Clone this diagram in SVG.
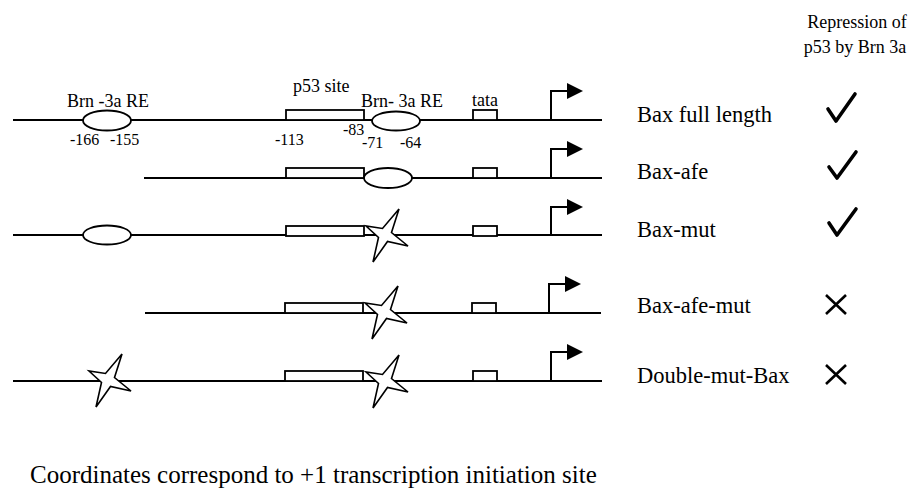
<svg xmlns="http://www.w3.org/2000/svg" width="911" height="496" viewBox="0 0 911 496">
<style>
text{font-family:"Liberation Serif","Times New Roman",serif;fill:#000}
.lbl{font-size:18px}
.num{font-size:16px}
.name{font-size:22.5px}
.line{stroke:#000;stroke-width:2;fill:none}
.box{stroke:#000;stroke-width:1.8;fill:#fff}
.ell{stroke:#000;stroke-width:1.8;fill:#fff}
.star{stroke:#000;stroke-width:1.6;fill:#fff;stroke-linejoin:miter}
.tss{stroke:#000;stroke-width:2;fill:none}
.mark{stroke:#000;stroke-width:3.6;fill:none;stroke-linecap:round;stroke-linejoin:round}
.cross{stroke:#000;stroke-width:2.6;fill:none}
</style>
<defs>
<path id="star" d="M14,-26 L6.5,-2.5 L23,11 L2.5,6.5 L-12,27 L-6.5,2.5 L-19,-9 L-2.5,-6.5 Z"/>
<g id="arrow">
<path class="tss" d="M0,0 V-29 H17"/>
<path d="M16,-37 L32,-29 L16,-21 Z" fill="#000"/>
</g>
<g id="tata"><rect class="box" x="473" y="-10" width="24" height="10"/></g>
<g id="p53"><rect class="box" x="286" y="-10" width="78" height="10"/></g>
</defs>

<g id="header">
<text class="lbl" x="857" y="28" text-anchor="middle">Repression of</text>
<text class="lbl" x="855" y="53" text-anchor="middle">p53 by Brn 3a</text>
</g>

<g id="row1">
<line class="line" x1="13" y1="120" x2="602" y2="120"/>
<ellipse class="ell" cx="107" cy="120.5" rx="24" ry="10"/>
<use href="#p53" transform="translate(0,120)"/>
<ellipse class="ell" cx="396" cy="121" rx="24" ry="9.5"/>
<use href="#tata" transform="translate(0,120)"/>
<use href="#arrow" transform="translate(551,120)"/>
<text class="lbl" x="67" y="107">Brn -3a RE</text>
<text class="lbl" x="293" y="92">p53 site</text>
<text class="lbl" x="361" y="107">Brn- 3a RE</text>
<text class="lbl" x="472" y="106">tata</text>
<text class="num" x="70" y="145">-166</text>
<text class="num" x="110" y="145">-155</text>
<text class="num" x="275" y="145">-113</text>
<text class="num" x="343" y="135">-83</text>
<text class="num" x="362" y="148">-71</text>
<text class="num" x="400" y="148">-64</text>
<text class="name" x="637" y="122">Bax full length</text>
<path class="mark" d="M828,109 L836,121 L855,94"/>
</g>

<g id="row2">
<line class="line" x1="144" y1="178" x2="602" y2="178"/>
<use href="#p53" transform="translate(0,178)"/>
<ellipse class="ell" cx="388" cy="178" rx="24" ry="10"/>
<use href="#tata" transform="translate(0,178)"/>
<use href="#arrow" transform="translate(551,178)"/>
<text class="name" x="637" y="179">Bax-afe</text>
<path class="mark" d="M829,167 L837,178 L856,152"/>
</g>

<g id="row3">
<line class="line" x1="13" y1="235" x2="602" y2="235"/>
<ellipse class="ell" cx="107" cy="235" rx="24" ry="9.5"/>
<use href="#p53" transform="translate(0,236)"/>
<use href="#tata" transform="translate(0,236)"/>
<use href="#star" class="star" transform="translate(385,235)"/>
<use href="#arrow" transform="translate(551,236)"/>
<text class="name" x="637" y="237">Bax-mut</text>
<path class="mark" d="M829,223 L837,235 L856,209"/>
</g>

<g id="row4">
<line class="line" x1="145" y1="313" x2="601" y2="313"/>
<use href="#p53" transform="translate(-1,313)"/>
<use href="#tata" transform="translate(-1,313)"/>
<use href="#star" class="star" transform="translate(384,312)"/>
<use href="#arrow" transform="translate(549,313)"/>
<text class="name" x="637" y="313">Bax-afe-mut</text>
<path class="cross" d="M826,295 L846,314 M846,295 L826,314"/>
</g>

<g id="row5">
<line class="line" x1="13" y1="381" x2="602" y2="381"/>
<use href="#star" class="star" transform="translate(108,380)"/>
<use href="#p53" transform="translate(-1,381)"/>
<use href="#tata" transform="translate(0,381)"/>
<use href="#star" class="star" transform="translate(385,381)"/>
<use href="#arrow" transform="translate(551,381)"/>
<text class="name" x="637" y="383">Double-mut-Bax</text>
<path class="cross" d="M826,365 L846,384 M846,365 L826,384"/>
</g>

<g id="footnote">
<text x="30" y="483" style="font-size:25px">Coordinates correspond to +1 transcription initiation site</text>
</g>
<g id="connectors"/>
</svg>
